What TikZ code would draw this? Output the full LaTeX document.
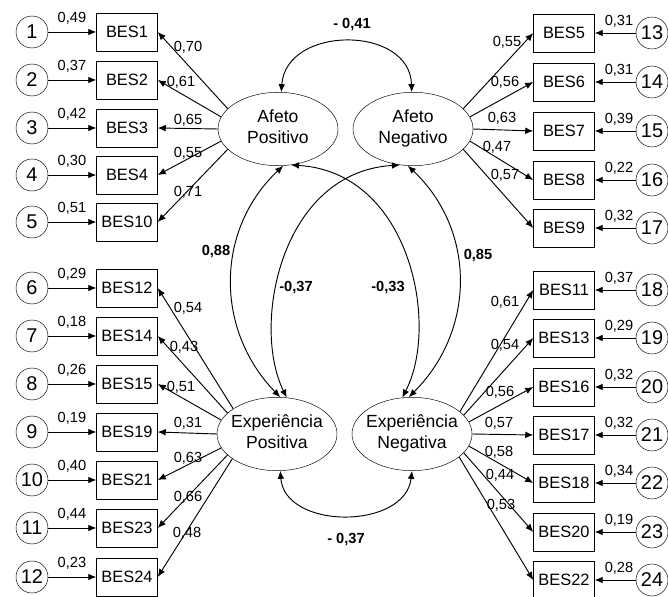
\documentclass[tikz,border=0pt]{standalone}
\usepackage{fontspec}
\setmainfont{Liberation Sans}
\usetikzlibrary{shapes.geometric,arrows.meta}
\newcommand{\twolines}[2]{\makebox[0pt]{\begin{tabular}{@{}c@{}}#1\\#2\end{tabular}}}
\begin{document}
\begin{tikzpicture}[x=0.03cm, y=-0.03cm,
  obs/.style={draw, rectangle, minimum width=1.83cm, minimum height=1.14cm, inner sep=0pt, font=\fontsize{14}{16}\selectfont},
  err/.style={draw, circle, minimum size=0.96cm, inner sep=0pt, font=\fontsize{17}{19}\selectfont},
  latent/.style={draw, ellipse, minimum width=3.6cm, minimum height=2.2cm, inner sep=0pt, font=\fontsize{15}{18}\selectfont},
  val/.style={font=\fontsize{12.5}{14}\selectfont, inner sep=0pt},
  cor/.style={font=\bfseries\fontsize{12.5}{14}\selectfont, inner sep=0pt},
  load/.style={-{Latex[length=2.4mm,width=2mm]}, line width=0.8pt},
  resid/.style={-{Latex[length=2.4mm,width=2mm]}, line width=0.8pt},
  cov/.style={{Latex[length=2.4mm,width=2mm]}-{Latex[length=2.4mm,width=2mm]}, line width=0.8pt}]
\useasboundingbox (0,0) rectangle (668,597);

\node[latent] (AP) at (278,129) {\twolines{Afeto}{Positivo}};
\node[latent] (AN) at (413,129) {\twolines{Afeto}{Negativo}};
\node[latent] (EP) at (277,434) {\twolines{Experiência}{Positiva}};
\node[latent] (EN) at (412,434) {\twolines{Experiência}{Negativa}};

% left, upper block
\foreach \i/\yy/\bx/\ev/\lw/\lx/\ly/\ang in {
  1/32/BES1/{0,49}/{0,70}/188/47/158,
  2/80/BES2/{0,37}/{0,61}/181/82/168,
  3/128/BES3/{0,42}/{0,65}/188/120/180,
  4/175/BES4/{0,30}/{0,55}/188/153/192,
  5/222/BES10/{0,51}/{0,71}/188/192/202}{
  \node[obs] (b\i) at (127,\yy) {\bx};
  \node[err] (e\i) at (32,\yy) {\i};
  \draw[resid] (e\i) -- (b\i);
  \draw[load] (AP.\ang) -- (b\i.east);
  \node[val] (ev\i) at (72,\yy-14) {\ev};
  \node[val] (lv\i) at (\lx,\ly) {\lw};
}
% left, lower block
\foreach \i/\yy/\bx/\ev/\lw/\lx/\ly/\ang in {
  6/288/BES12/{0,29}/{0,54}/188/308/150,
  7/336/BES14/{0,18}/{0,43}/184/347/157,
  8/384/BES15/{0,26}/{0,51}/181/387/166,
  9/432/BES19/{0,19}/{0,31}/188/423/180,
  10/480/BES21/{0,40}/{0,63}/188/458/194,
  11/528/BES23/{0,44}/{0,66}/188/497/203,
  12/577/BES24/{0,23}/{0,48}/187/533/209}{
  \node[obs] (b\i) at (127,\yy) {\bx};
  \node[err] (e\i) at (32,\yy) {\i};
  \draw[resid] (e\i) -- (b\i);
  \draw[load] (EP.\ang) -- (b\i.east);
  \node[val] (ev\i) at (72,\yy-14) {\ev};
  \node[val] (lv\i) at (\lx,\ly) {\lw};
}
% right, upper block
\foreach \i/\yy/\bx/\ev/\lw/\lx/\ly/\ang in {
  13/33/BES5/{0,31}/{0,55}/507/42/22,
  14/82/BES6/{0,31}/{0,56}/505/82/12,
  15/131/BES7/{0,39}/{0,63}/502/118/0,
  16/180/BES8/{0,22}/{0,47}/497/147/-12,
  17/228/BES9/{0,32}/{0,57}/505/175/-22}{
  \node[obs] (b\i) at (564,\yy) {\bx};
  \node[err] (e\i) at (652,\yy) {\i};
  \draw[resid] (e\i) -- (b\i);
  \draw[load] (AN.\ang) -- (b\i.west);
  \node[val] (ev\i) at (619,\yy-12) {\ev};
  \node[val] (lv\i) at (\lx,\ly) {\lw};
}
% right, lower block
\foreach \i/\yy/\bx/\ev/\lw/\lx/\ly/\ang in {
  18/290/BES11/{0,37}/{0,61}/505/302/25,
  19/338/BES13/{0,29}/{0,54}/505/345/20,
  20/387/BES16/{0,32}/{0,56}/500/392/12,
  21/435/BES17/{0,32}/{0,57}/499/423/0,
  22/483/BES18/{0,34}/{0,58}/499/452/-12,
  23/532/BES20/{0,19}/{0,44}/500/475/-20,
  24/580/BES22/{0,28}/{0,53}/501/505/-26}{
  \node[obs] (b\i) at (564,\yy) {\bx};
  \node[err] (e\i) at (652,\yy) {\i};
  \draw[resid] (e\i) -- (b\i);
  \draw[load] (EN.\ang) -- (b\i.west);
  \node[val] (ev\i) at (619,\yy-12) {\ev};
  \node[val] (lv\i) at (\lx,\ly) {\lw};
}

% correlations
\draw[cov] (AP.85) .. controls (286,25) and (410,25) .. (AN.92);
\draw[cov] (AP.-82) .. controls (215,230) and (215,330) .. (EP.85);
\draw[cov] (AN.-98) .. controls (476,230) and (476,330) .. (EN.95);
\draw[cov] (AP.-70) .. controls (410,172) and (440,325) .. (EN.105);
\draw[cov] (AN.-110) .. controls (281,172) and (251,325) .. (EP.75);
\draw[cov] (EP.-85) .. controls (285,530) and (405,530) .. (EN.-90);

\node[cor] (c1) at (352,25) {- 0,41};
\node[cor] (c2) at (216,252) {0,88};
\node[cor] (c3) at (296,288) {-0,37};
\node[cor] (c4) at (388,288) {-0,33};
\node[cor] (c5) at (478,256) {0,85};
\node[cor] (c6) at (346,540) {- 0,37};
\end{tikzpicture}
\end{document}
